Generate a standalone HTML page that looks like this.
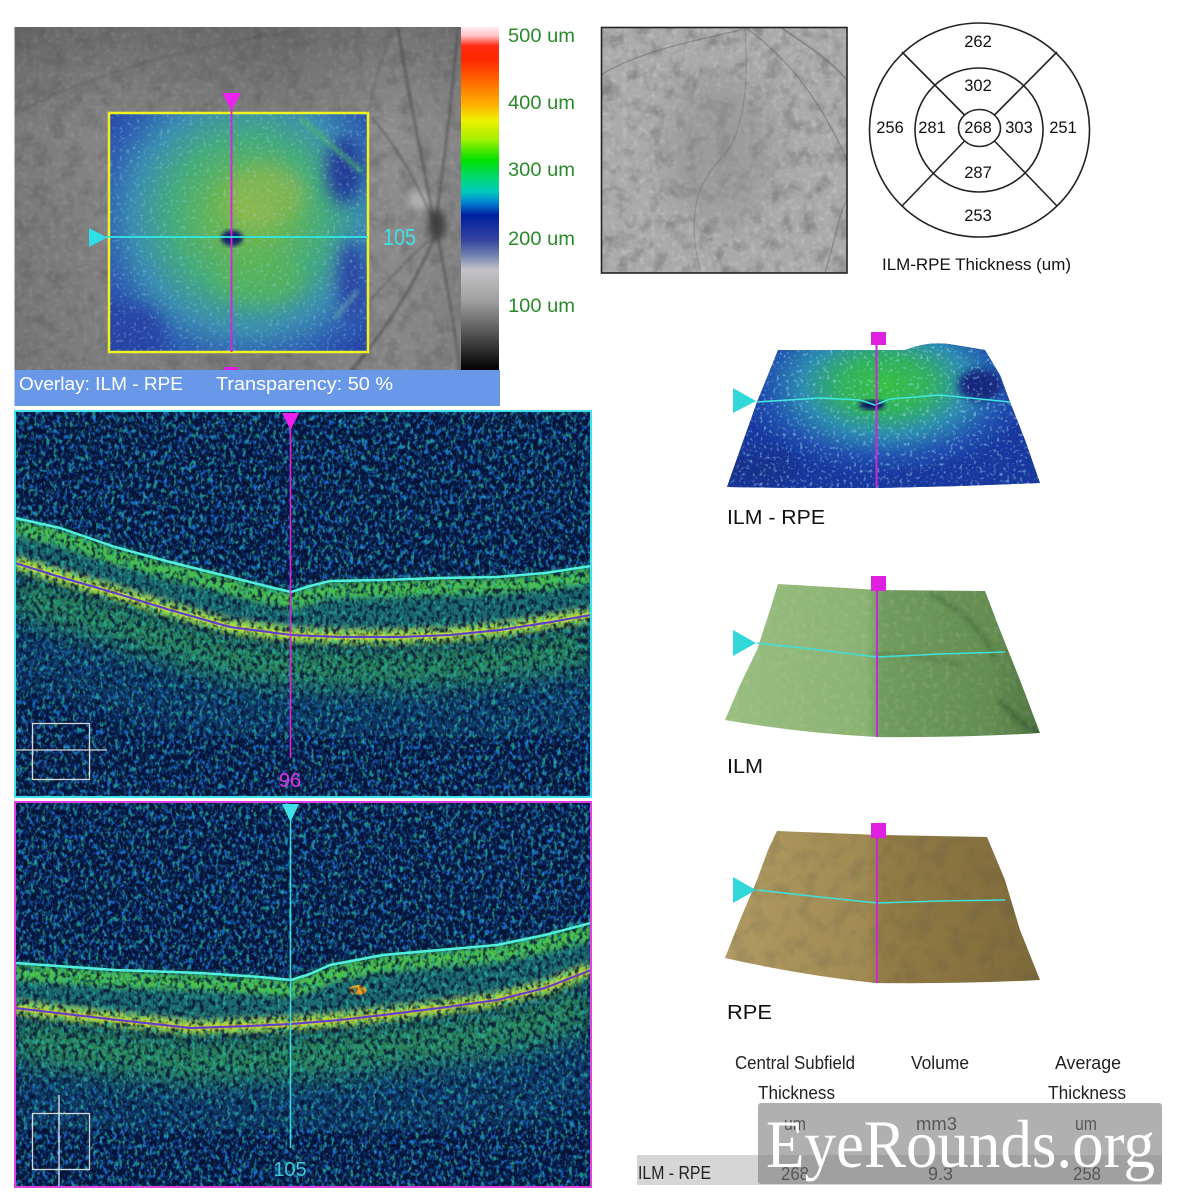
<!DOCTYPE html>
<html><head><meta charset="utf-8"><style>
html,body{margin:0;padding:0;background:#fff;}
svg{display:block;}
text{font-family:"Liberation Sans",Arial,sans-serif;}
</style></head><body>
<svg width="1177" height="1200" viewBox="0 0 1177 1200" xmlns="http://www.w3.org/2000/svg">
<defs>
 <linearGradient id="cbar" x1="0" y1="27" x2="0" y2="370" gradientUnits="userSpaceOnUse">
  <stop offset="0" stop-color="#ffeef0"/>
  <stop offset="0.025" stop-color="#ffc4c4"/>
  <stop offset="0.055" stop-color="#ff2a12"/>
  <stop offset="0.096" stop-color="#ff2800"/>
  <stop offset="0.175" stop-color="#ff7a00"/>
  <stop offset="0.227" stop-color="#ffb000"/>
  <stop offset="0.271" stop-color="#f0f000"/>
  <stop offset="0.329" stop-color="#a0f000"/>
  <stop offset="0.388" stop-color="#00e000"/>
  <stop offset="0.446" stop-color="#00d880"/>
  <stop offset="0.481" stop-color="#00c8c0"/>
  <stop offset="0.513" stop-color="#0080d0"/>
  <stop offset="0.548" stop-color="#0020a0"/>
  <stop offset="0.621" stop-color="#3444a0"/>
  <stop offset="0.665" stop-color="#7080b0"/>
  <stop offset="0.708" stop-color="#c4c4c8"/>
  <stop offset="0.796" stop-color="#a0a0a0"/>
  <stop offset="0.883" stop-color="#5c5c5c"/>
  <stop offset="1" stop-color="#000"/>
 </linearGradient>
 <radialGradient id="thk" cx="248" cy="215" r="170" gradientUnits="userSpaceOnUse">
  <stop offset="0" stop-color="#80b84e"/>
  <stop offset="0.22" stop-color="#62b457"/>
  <stop offset="0.45" stop-color="#44aa7c"/>
  <stop offset="0.68" stop-color="#3a8cb0"/>
  <stop offset="0.85" stop-color="#2e60b2"/>
  <stop offset="1" stop-color="#2648a8"/>
 </radialGradient>
 <radialGradient id="thk3d" cx="885" cy="385" r="150" gradientUnits="userSpaceOnUse" gradientTransform="translate(885 385) scale(1 0.6) translate(-885 -385)">
  <stop offset="0" stop-color="#38c040"/>
  <stop offset="0.3" stop-color="#30b060"/>
  <stop offset="0.55" stop-color="#2c8cb0"/>
  <stop offset="0.8" stop-color="#2050b0"/>
  <stop offset="1" stop-color="#1838a0"/>
 </radialGradient>
 <linearGradient id="ilmg" x1="725" y1="0" x2="1040" y2="0" gradientUnits="userSpaceOnUse">
  <stop offset="0" stop-color="#98be80"/>
  <stop offset="0.45" stop-color="#8ab272"/>
  <stop offset="0.49" stop-color="#719c5e"/>
  <stop offset="0.85" stop-color="#628c50"/>
  <stop offset="1" stop-color="#4e7440"/>
 </linearGradient>
 <linearGradient id="rpeg" x1="725" y1="0" x2="1040" y2="0" gradientUnits="userSpaceOnUse">
  <stop offset="0" stop-color="#b09a62"/>
  <stop offset="0.45" stop-color="#a08a52"/>
  <stop offset="0.5" stop-color="#927c46"/>
  <stop offset="1" stop-color="#7e6a3a"/>
 </linearGradient>
 <linearGradient id="fund" x1="14" y1="0" x2="461" y2="0" gradientUnits="userSpaceOnUse">
  <stop offset="0" stop-color="#7a7a7a"/>
  <stop offset="0.2" stop-color="#858585"/>
  <stop offset="0.6" stop-color="#7e7e7e"/>
  <stop offset="0.85" stop-color="#8e8e8e"/>
  <stop offset="1" stop-color="#858585"/>
 </linearGradient>
 <linearGradient id="fundv" x1="0" y1="27" x2="0" y2="370" gradientUnits="userSpaceOnUse">
  <stop offset="0" stop-color="#000" stop-opacity="0.18"/>
  <stop offset="0.3" stop-color="#000" stop-opacity="0"/>
  <stop offset="1" stop-color="#000" stop-opacity="0.05"/>
 </linearGradient>
 <filter id="b1"><feGaussianBlur stdDeviation="1"/></filter>
 <filter id="b2"><feGaussianBlur stdDeviation="2"/></filter>
 <filter id="b3" x="-10%" y="-10%" width="120%" height="120%"><feGaussianBlur stdDeviation="3"/></filter>
 <filter id="b4" x="-50%" y="-50%" width="200%" height="200%"><feGaussianBlur stdDeviation="4"/></filter>
 <filter id="b8" x="-50%" y="-50%" width="200%" height="200%"><feGaussianBlur stdDeviation="8"/></filter>
 <filter id="b12" x="-10%" y="-20%" width="120%" height="140%"><feGaussianBlur stdDeviation="12"/></filter>
 <filter id="b14" x="-50%" y="-50%" width="200%" height="200%"><feGaussianBlur stdDeviation="14"/></filter>
 <filter id="spkB" x="0" y="0" width="1" height="1" color-interpolation-filters="sRGB">
  <feTurbulence type="fractalNoise" baseFrequency="0.28 0.2" numOctaves="2" seed="7"/>
  <feColorMatrix type="matrix" values="0 0 0 0 0.1  0 0 0 0 0.42  0 0 0 0 0.8  4 0 0 0 -1.85"/>
 </filter>
 <filter id="spkT" x="0" y="0" width="1" height="1" color-interpolation-filters="sRGB">
  <feTurbulence type="fractalNoise" baseFrequency="0.26 0.18" numOctaves="2" seed="13"/>
  <feColorMatrix type="matrix" values="0 0 0 0 0.15  0 0 0 0 0.72  0 0 0 0 0.62  0 0 5 0 -2.75"/>
 </filter>
 <filter id="spkD" x="0" y="0" width="1" height="1" color-interpolation-filters="sRGB">
  <feTurbulence type="fractalNoise" baseFrequency="0.24 0.18" numOctaves="2" seed="21"/>
  <feColorMatrix type="matrix" values="0 0 0 0 0.02  0 0 0 0 0.06  0 0 0 0 0.2  0 4 0 0 -1.75"/>
 </filter>
 <filter id="spkW" x="0" y="0" width="1" height="1" color-interpolation-filters="sRGB">
  <feTurbulence type="fractalNoise" baseFrequency="0.3" numOctaves="2" seed="4"/>
  <feColorMatrix type="matrix" values="0 0 0 0 0.65  0 0 0 0 0.88  0 0 0 0 0.95  5 0 0 0 -2.85"/>
 </filter>
 <filter id="gtex" x="0" y="0" width="1" height="1" color-interpolation-filters="sRGB">
  <feTurbulence type="fractalNoise" baseFrequency="0.06" numOctaves="3" seed="9"/>
  <feColorMatrix type="matrix" values="0 0 0 0 0.3  0 0 0 0 0.3  0 0 0 0 0.3  2.5 0 0 0 -1.15"/>
 </filter>
 <filter id="gtexL" x="0" y="0" width="1" height="1" color-interpolation-filters="sRGB">
  <feTurbulence type="fractalNoise" baseFrequency="0.18" numOctaves="2" seed="17"/>
  <feColorMatrix type="matrix" values="0 0 0 0 0.9  0 0 0 0 0.9  0 0 0 0 0.9  2.5 0 0 0 -1.2"/>
 </filter>
 <clipPath id="cf"><rect x="14.5" y="27" width="447" height="343"/></clipPath>
 <clipPath id="csq"><rect x="109" y="114" width="258" height="237"/></clipPath>
 <clipPath id="cslo"><rect x="601" y="27" width="246" height="246"/></clipPath>
 <clipPath id="c1"><rect x="15" y="411" width="576" height="386"/></clipPath>
 <clipPath id="c2"><rect x="15" y="802" width="576" height="385"/></clipPath>
 <clipPath id="c3d"><path d="M778,350 L905,350 Q930,340 955,345 L985,350 L1000,375 L1010,402 L1025,440 L1040,483 L960,486 L880,488 L800,488 L727,487 L740,450 L757,402 L770,370 Z"/></clipPath>
 <clipPath id="cilm"><path d="M778,584 L880,590 L985,591 L1000,630 L1020,680 L1040,733 Q960,738 877,737 Q800,733 725,720 L740,685 L757,650 L770,610 Z"/></clipPath>
 <clipPath id="crpe"><path d="M777,831 L880,835 L987,837 L1005,880 L1020,930 L1040,980 Q960,984 875,983 Q800,975 725,958 L740,920 L757,880 L768,850 Z"/></clipPath>
</defs>

<rect width="1177" height="1200" fill="#fff"/>

<!-- ===== Fundus with thickness overlay ===== -->
<g clip-path="url(#cf)">
 <rect x="14" y="27" width="448" height="343" fill="url(#fund)"/>
 <rect x="14" y="27" width="448" height="343" fill="url(#fundv)"/>
 <rect x="14" y="27" width="448" height="343" filter="url(#gtex)" opacity="0.35"/>
 <rect x="14" y="27" width="448" height="343" filter="url(#gtexL)" opacity="0.12"/>
 <ellipse cx="420" cy="200" rx="12" ry="10" fill="#b0b0b0" filter="url(#b4)"/>
 <ellipse cx="437" cy="225" rx="9" ry="16" fill="#404040" filter="url(#b4)"/>
 <g fill="none" stroke="#3c3c3c" stroke-opacity="0.45" stroke-linecap="round" filter="url(#b1)">
  <path d="M434,225 C426,170 412,120 398,27" stroke-width="3"/>
  <path d="M436,222 C444,160 452,100 458,27" stroke-width="2.5"/>
  <path d="M432,218 C418,185 400,150 372,118" stroke-width="2"/>
  <path d="M434,238 C412,290 385,330 352,370" stroke-width="3"/>
  <path d="M438,238 C448,290 455,330 460,370" stroke-width="2.5"/>
  <path d="M430,240 C405,260 390,280 370,300" stroke-width="1.5"/>
  <path d="M22,110 C100,70 200,45 300,30" stroke-width="1.5" stroke-opacity="0.25"/>
  <path d="M395,27 C380,60 375,80 368,112" stroke-width="1.5" stroke-opacity="0.35"/>
 </g>
 <!-- overlay -->
 <g clip-path="url(#csq)">
  <rect x="109" y="114" width="258" height="237" fill="url(#thk)"/>
  <ellipse cx="265" cy="195" rx="40" ry="30" fill="#98b850" opacity="0.55" filter="url(#b8)"/>
  <ellipse cx="260" cy="280" rx="45" ry="25" fill="#5cb84c" opacity="0.5" filter="url(#b8)"/>
  <ellipse cx="345" cy="170" rx="18" ry="34" fill="#233a98" filter="url(#b8)"/>
  <ellipse cx="352" cy="280" rx="14" ry="40" fill="#2a44a4" filter="url(#b8)"/>
  <ellipse cx="125" cy="335" rx="40" ry="30" fill="#2644a4" filter="url(#b8)"/>
  <path d="M300,118 L362,172" stroke="#50b870" stroke-width="5" opacity="0.7" filter="url(#b2)"/>
  <path d="M335,318 L358,290" stroke="#70c0b0" stroke-width="4" opacity="0.6" filter="url(#b2)"/>
  <rect x="109" y="114" width="258" height="237" filter="url(#spkW)" opacity="0.3"/>
  <ellipse cx="232" cy="238" rx="11" ry="8" fill="#162068" filter="url(#b2)"/>
 </g>
 <rect x="109" y="113" width="259" height="239" fill="none" stroke="#f2f222" stroke-width="2.5"/>
 <line x1="231.5" y1="105" x2="231.5" y2="352" stroke="#e020e0" stroke-width="1.8"/>
 <polygon points="222,93 241,93 231.5,110" fill="#f020f0"/>
 <line x1="106" y1="237" x2="368" y2="237" stroke="#30e8e8" stroke-width="1.8"/>
 <polygon points="89,228 89,247 107,237.5" fill="#30e0e8"/>
 <text x="383" y="245" font-size="23" fill="#40e0e8" textLength="33" lengthAdjust="spacingAndGlyphs">105</text>
 <rect x="224" y="367" width="14" height="3" fill="#e020e0"/>
</g>
<rect x="461" y="27" width="38" height="343" fill="url(#cbar)"/>
<rect x="14.5" y="370" width="485.5" height="36" fill="#6a98e8"/>
<text x="19" y="390" font-size="18" fill="#fff" textLength="164" lengthAdjust="spacingAndGlyphs">Overlay: ILM - RPE</text>
<text x="216" y="390" font-size="18" fill="#fff" textLength="177" lengthAdjust="spacingAndGlyphs">Transparency: 50 %</text>
<g font-size="19" fill="#2a8a2a">
 <text x="508" y="42" textLength="67" lengthAdjust="spacingAndGlyphs">500 um</text>
 <text x="508" y="109" textLength="67" lengthAdjust="spacingAndGlyphs">400 um</text>
 <text x="508" y="176" textLength="67" lengthAdjust="spacingAndGlyphs">300 um</text>
 <text x="508" y="245" textLength="67" lengthAdjust="spacingAndGlyphs">200 um</text>
 <text x="508" y="312" textLength="67" lengthAdjust="spacingAndGlyphs">100 um</text>
</g>

<!-- ===== SLO ===== -->
<g clip-path="url(#cslo)">
 <rect x="601" y="27" width="246" height="246" fill="#aaaaaa"/>
 <rect x="601" y="27" width="246" height="246" filter="url(#gtex)" opacity="0.4"/>
 <rect x="601" y="27" width="246" height="246" filter="url(#gtexL)" opacity="0.3"/>
 <ellipse cx="720" cy="150" rx="55" ry="75" fill="#8a8a8a" opacity="0.45" filter="url(#b14)"/>
 <g fill="none" stroke="#555" stroke-opacity="0.4" stroke-width="1.3">
  <path d="M601,75 C640,50 700,40 740,30"/>
  <path d="M745,27 C790,60 820,100 847,160"/>
  <path d="M700,270 C690,230 690,190 720,160 C740,140 750,100 745,27" stroke-opacity="0.25"/>
  <path d="M825,273 C835,240 840,210 847,200"/>
  <path d="M780,27 C800,40 830,60 847,80" stroke-width="2"/>
 </g>
</g>
<rect x="601.5" y="27.5" width="245.5" height="245.5" fill="none" stroke="#222" stroke-width="1.6"/>

<!-- ===== ETDRS ===== -->
<g fill="none" stroke="#222" stroke-width="1.6">
 <ellipse cx="979.5" cy="130" rx="110" ry="107"/>
 <ellipse cx="979" cy="130" rx="64" ry="62"/>
 <ellipse cx="979.5" cy="128" rx="21" ry="18.5"/>
 <line x1="964.5" y1="115" x2="902" y2="52"/>
 <line x1="994.5" y1="115" x2="1057" y2="52"/>
 <line x1="964.5" y1="141" x2="902" y2="206"/>
 <line x1="994.5" y1="141" x2="1057" y2="206"/>
</g>
<g font-size="16.5" fill="#111" text-anchor="middle">
 <text x="978" y="47">262</text>
 <text x="978" y="91">302</text>
 <text x="890" y="133">256</text>
 <text x="932" y="133">281</text>
 <text x="978" y="133">268</text>
 <text x="1019" y="133">303</text>
 <text x="1063" y="133">251</text>
 <text x="978" y="178">287</text>
 <text x="978" y="221">253</text>
</g>
<text x="882" y="270" font-size="17" fill="#111" textLength="189" lengthAdjust="spacingAndGlyphs">ILM-RPE Thickness (um)</text>

<!-- ===== 3D ILM-RPE ===== -->
<g clip-path="url(#c3d)">
 <rect x="720" y="330" width="330" height="165" fill="#1a3a9c"/>
 <rect x="720" y="330" width="330" height="165" fill="url(#thk3d)"/>
 <ellipse cx="980" cy="385" rx="22" ry="16" fill="#12287e" filter="url(#b4)"/>
 <ellipse cx="760" cy="470" rx="40" ry="20" fill="#14308e" filter="url(#b8)"/>
 <rect x="720" y="330" width="330" height="165" filter="url(#spkW)" opacity="0.5"/>
 <ellipse cx="872" cy="405" rx="13" ry="5" fill="#101860" filter="url(#b2)"/>
</g>
<polyline points="757,402 820,398 860,400 875,405 890,399 940,395 1010,402" fill="none" stroke="#40e8e0" stroke-width="1.6"/>
<polygon points="733,388 756,401 733,413" fill="#30d8d8"/>
<line x1="876.5" y1="344" x2="876.5" y2="487" stroke="#c828d8" stroke-width="2"/>
<rect x="871" y="332" width="15" height="13" fill="#e020e0"/>
<text x="727" y="524" font-size="20" fill="#111" textLength="98" lengthAdjust="spacingAndGlyphs">ILM - RPE</text>

<!-- ===== 3D ILM ===== -->
<g clip-path="url(#cilm)">
 <rect x="720" y="575" width="330" height="170" fill="url(#ilmg)"/>
 <g fill="none" stroke="#2e4a28" stroke-opacity="0.5">
  <path d="M930,593 C960,610 985,630 995,660" stroke-width="3" filter="url(#b2)"/>
  <path d="M1000,700 C1010,715 1025,725 1040,733" stroke-width="5" filter="url(#b2)"/>
  <path d="M870,655 C890,650 920,655 960,665" stroke-width="3" stroke-opacity="0.3" filter="url(#b2)"/>
 </g>
 <rect x="720" y="575" width="330" height="170" filter="url(#gtexL)" opacity="0.15"/>
</g>
<polyline points="757,643 820,650 877,657 940,654 1005,652" fill="none" stroke="#40e0d8" stroke-width="1.6"/>
<polygon points="733,630 756,643 733,656" fill="#30d8d8"/>
<line x1="877" y1="590" x2="877" y2="737" stroke="#c828d8" stroke-width="2"/>
<rect x="871" y="576" width="15" height="15" fill="#e020e0"/>
<text x="727" y="773" font-size="20" fill="#111" textLength="36" lengthAdjust="spacingAndGlyphs">ILM</text>

<!-- ===== 3D RPE ===== -->
<g clip-path="url(#crpe)">
 <rect x="720" y="825" width="330" height="165" fill="url(#rpeg)"/>
 <rect x="720" y="825" width="330" height="165" filter="url(#gtex)" opacity="0.2"/>
</g>
<polyline points="757,890 820,897 877,903 940,901 1005,900" fill="none" stroke="#40e0d8" stroke-width="1.6"/>
<polygon points="733,877 756,890 733,903" fill="#30d8d8"/>
<line x1="877" y1="837" x2="877" y2="983" stroke="#c828d8" stroke-width="2"/>
<rect x="871" y="823" width="15" height="15" fill="#e020e0"/>
<text x="727" y="1019" font-size="20" fill="#111" textLength="45" lengthAdjust="spacingAndGlyphs">RPE</text>

<!-- ===== OCT B-scan 1 ===== -->
<g clip-path="url(#c1)">
 <rect x="15" y="411" width="576" height="386" fill="#06163c"/>
 <rect x="15" y="411" width="576" height="386" filter="url(#spkB)"/>
 <g fill="none" stroke-linejoin="round" filter="url(#b12)">
  <polyline transform="translate(0,75)" points="15,563 60,577 115,593 170,610 230,627 291,635 340,637 400,637 450,635 500,630 545,623 591,615" stroke="#1a5a88" stroke-width="90" stroke-opacity="0.45"/>
  <polyline transform="translate(0,30)" points="15,563 60,577 115,593 170,610 230,627 291,635 340,637 400,637 450,635 500,630 545,623 591,615" stroke="#34a858" stroke-width="40" stroke-opacity="0.75"/>
 </g>
 <g filter="url(#b3)">
  <polygon points="15,518 60,528 115,547 170,562 230,577 270,587 291,592 310,586 330,581 383,580 440,578 497,577 545,573 591,566 591,615 545,623 500,630 450,635 400,637 340,637 291,635 230,627 170,610 115,593 60,577 15,563" fill="#1d6a70"/>
  <g fill="none" stroke-linejoin="round">
   <polyline transform="translate(0,9)" points="15,518 60,528 115,547 170,562 230,577 270,587 291,592 310,586 330,581 383,580 440,578 497,577 545,573 591,566" stroke="#48c050" stroke-width="16"/>
   <polyline points="15,563 60,577 115,593 170,610 230,627 291,635 340,637 400,637 450,635 500,630 545,623 591,615" stroke="#a6e040" stroke-width="14"/>
  </g>
 </g>
 <rect x="15" y="411" width="576" height="386" filter="url(#spkD)" opacity="0.8"/>
 <rect x="15" y="411" width="576" height="386" filter="url(#spkT)" opacity="0.7"/>
 <g fill="none" stroke-linejoin="round">
  <polyline points="15,563 60,577 115,593 170,610 230,627 291,635 340,637 400,637 450,635 500,630 545,623 591,615" stroke="#e8e040" stroke-width="5" stroke-opacity="0.5"/>
  <polyline points="15,563 60,577 115,593 170,610 230,627 291,635 340,637 400,637 450,635 500,630 545,623 591,615" stroke="#5a40d0" stroke-width="2"/>
  <polyline points="15,518 60,528 115,547 170,562 230,577 270,587 291,592 310,586 330,581 383,580 440,578 497,577 545,573 591,566" stroke="#50f0e0" stroke-width="2.5"/>
 </g>
 <line x1="290.5" y1="425" x2="290.5" y2="758" stroke="#e020e0" stroke-width="1.6"/>
 <polygon points="282,413 299,413 290.5,430" fill="#f020f0"/>
 <text x="290" y="787" font-size="20" fill="#e030e0" text-anchor="middle">96</text>
 <rect x="32.5" y="723.5" width="57" height="56" fill="none" stroke="#d8d8d8" stroke-width="1.3"/>
 <line x1="15" y1="750" x2="107" y2="750" stroke="#d8d8d8" stroke-width="1.3"/>
</g>
<rect x="15" y="411" width="576" height="386" fill="none" stroke="#40e0ec" stroke-width="2"/>

<!-- ===== OCT B-scan 2 ===== -->
<g clip-path="url(#c2)">
 <rect x="15" y="802" width="576" height="385" fill="#06163c"/>
 <rect x="15" y="802" width="576" height="385" filter="url(#spkB)"/>
 <g fill="none" stroke-linejoin="round" filter="url(#b12)">
  <polyline transform="translate(0,80)" points="15,1008 100,1018 191,1028 250,1026 291,1024 340,1020 383,1015 440,1008 497,1000 545,988 591,970" stroke="#1a5a88" stroke-width="100" stroke-opacity="0.45"/>
  <polyline transform="translate(0,32)" points="15,1008 100,1018 191,1028 250,1026 291,1024 340,1020 383,1015 440,1008 497,1000 545,988 591,970" stroke="#34a858" stroke-width="44" stroke-opacity="0.75"/>
 </g>
 <g filter="url(#b3)">
  <polygon points="15,963 115,970 200,973 260,977 291,980 310,974 330,965 383,955 440,950 497,945 545,935 591,923 591,970 545,988 497,1000 440,1008 383,1015 340,1020 291,1024 250,1026 191,1028 100,1018 15,1008" fill="#1d6a70"/>
  <g fill="none" stroke-linejoin="round">
   <polyline transform="translate(0,9)" points="15,963 115,970 200,973 260,977 291,980 310,974 330,965 383,955 440,950 497,945 545,935 591,923" stroke="#4cc24e" stroke-width="16"/>
   <polyline points="15,1008 100,1018 191,1028 250,1026 291,1024 340,1020 383,1015 440,1008 497,1000 545,988 591,970" stroke="#a6e040" stroke-width="14"/>
  </g>
 </g>
 <ellipse cx="358" cy="990" rx="9" ry="5" fill="#f0a020"/>
 <rect x="15" y="802" width="576" height="385" filter="url(#spkD)" opacity="0.8"/>
 <rect x="15" y="802" width="576" height="385" filter="url(#spkT)" opacity="0.7"/>
 <g fill="none" stroke-linejoin="round">
  <polyline points="15,1008 100,1018 191,1028 250,1026 291,1024 340,1020 383,1015 440,1008 497,1000 545,988 591,970" stroke="#f0c030" stroke-width="5" stroke-opacity="0.5"/>
  <polyline points="15,1008 100,1018 191,1028 250,1026 291,1024 340,1020 383,1015 440,1008 497,1000 545,988 591,970" stroke="#5a40d0" stroke-width="2"/>
  <polyline points="15,963 115,970 200,973 260,977 291,980 310,974 330,965 383,955 440,950 497,945 545,935 591,923" stroke="#50f0e0" stroke-width="2.5"/>
 </g>
 <line x1="290.5" y1="818" x2="290.5" y2="1148" stroke="#40d8e0" stroke-width="1.6"/>
 <polygon points="282,804 299,804 290.5,822" fill="#40e0e8"/>
 <text x="290" y="1176" font-size="20" fill="#40c8d0" text-anchor="middle">105</text>
 <rect x="32.5" y="1113.5" width="57" height="56" fill="none" stroke="#d8d8d8" stroke-width="1.3"/>
 <line x1="59" y1="1095" x2="59" y2="1187" stroke="#e8e8e8" stroke-width="1.3"/>
</g>
<rect x="15" y="802" width="576" height="385" fill="none" stroke="#e040e0" stroke-width="2"/>

<!-- ===== Table ===== -->
<g font-size="18" fill="#222">
 <text x="735" y="1069" textLength="120" lengthAdjust="spacingAndGlyphs">Central Subfield</text>
 <text x="758" y="1099" textLength="77" lengthAdjust="spacingAndGlyphs">Thickness</text>
 <text x="911" y="1069" textLength="58" lengthAdjust="spacingAndGlyphs">Volume</text>
 <text x="1055" y="1069" textLength="66" lengthAdjust="spacingAndGlyphs">Average</text>
 <text x="1048" y="1099" textLength="78" lengthAdjust="spacingAndGlyphs">Thickness</text>
 <text x="784" y="1130" textLength="22" lengthAdjust="spacingAndGlyphs">um</text>
 <text x="916" y="1130" textLength="41" lengthAdjust="spacingAndGlyphs">mm3</text>
 <text x="1075" y="1130" textLength="22" lengthAdjust="spacingAndGlyphs">um</text>
</g>
<rect x="637" y="1155" width="525" height="30" fill="#d6d6d6"/>
<g font-size="18" fill="#222">
 <text x="638" y="1179" textLength="73" lengthAdjust="spacingAndGlyphs">ILM - RPE</text>
 <text x="781" y="1180" textLength="28" lengthAdjust="spacingAndGlyphs">268</text>
 <text x="928" y="1180" textLength="25" lengthAdjust="spacingAndGlyphs">9.3</text>
 <text x="1073" y="1180" textLength="28" lengthAdjust="spacingAndGlyphs">258</text>
</g>
<rect x="758" y="1103" width="404" height="81" rx="3" fill="#7c7c7c" opacity="0.6"/>
<text x="766" y="1167" font-family="'Liberation Serif','Times New Roman',serif" font-size="68" fill="#fff" textLength="389" lengthAdjust="spacingAndGlyphs" style="font-family:'Liberation Serif','Times New Roman',serif">EyeRounds.org</text>
</svg>
</body></html>
